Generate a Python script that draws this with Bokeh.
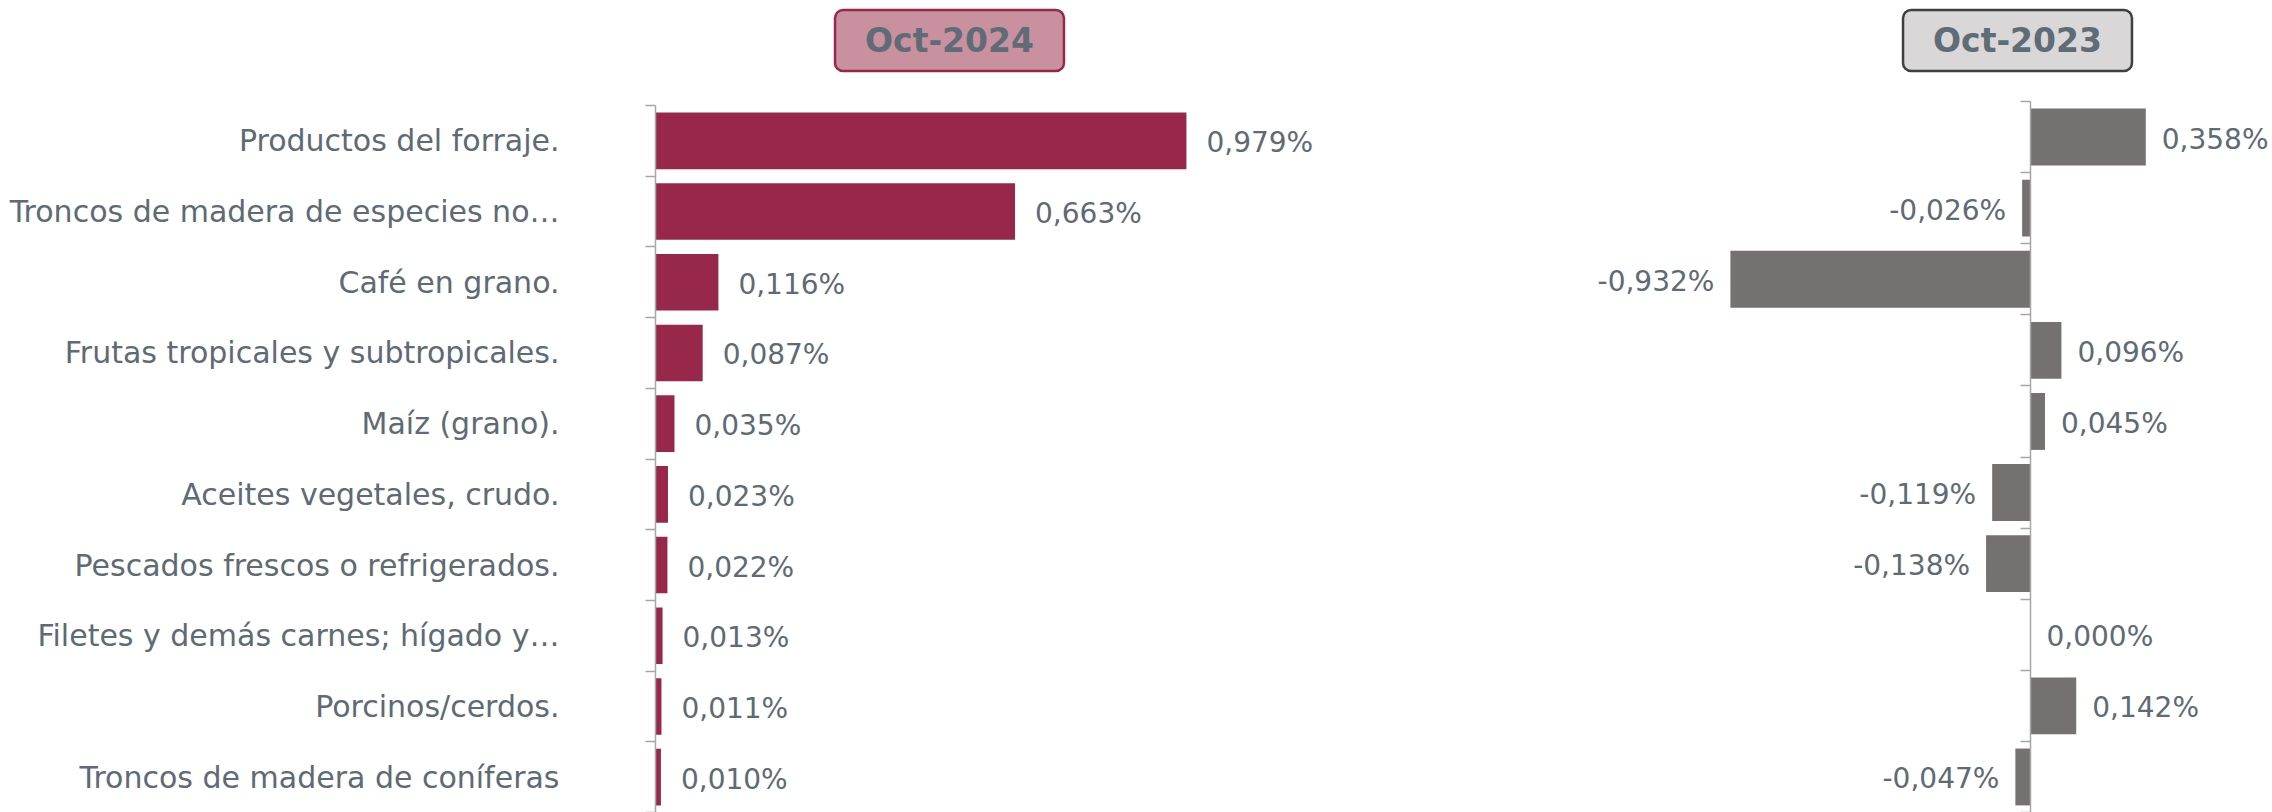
from bokeh.plotting import figure
from bokeh.models import (ColumnDataSource, Range1d, LinearAxis, FixedTicker, Label)
from bokeh.layouts import row
from bokeh.core.properties import value
from bokeh.embed import file_html
from bokeh.resources import INLINE

# ---------------- data ----------------
categories = [
    "Productos del forraje.",
    "Troncos de madera de especies no\u2026",
    "Café en grano.",
    "Frutas tropicales y subtropicales.",
    "Maíz (grano).",
    "Aceites vegetales, crudo.",
    "Pescados frescos o refrigerados.",
    "Filetes y demás carnes; hígado y\u2026",
    "Porcinos/cerdos.",
    "Troncos de madera de coníferas",
]
oct_2024 = [0.979, 0.663, 0.116, 0.087, 0.035, 0.023, 0.022, 0.013, 0.011, 0.010]
oct_2023 = [0.358, -0.026, -0.932, 0.096, 0.045, -0.119, -0.138, 0.000, 0.142, -0.047]
titles = ["Oct-2024", "Oct-2023"]

# ---------------- style ----------------
FONT = "DejaVu Sans"
TXT = "#5E6A74"
AXIS = "#A6A6A6"
RED = "#98284B"
GREY = "#767171"
H = 812
n = len(categories)
# category slot centres, first category on top
centres = [n - i - 0.5 for i in range(n)]


def fmt(v):
    return f"{v:.3f}".replace(".", ",") + "%"


def make_panel(vals, width, left_border, top_px, px_per_unit, zero_px, bar_color,
               with_labels, title, title_fill, title_line, title_center_px, pos_off):
    frame_w = width - left_border
    x_start = -(zero_px - left_border) / px_per_unit
    x_end = x_start + frame_w / px_per_unit
    px_y = (H - top_px) / n
    y_end = n + top_px / px_y
    p = figure(width=width, height=H, y_range=Range1d(0, y_end),
               x_range=Range1d(x_start, x_end),
               output_backend="svg", toolbar_location=None,
               x_axis_location=None, y_axis_location=None,
               min_border_left=left_border, min_border_right=0,
               min_border_top=0, min_border_bottom=0)
    p.outline_line_color = None
    p.xgrid.visible = False
    p.ygrid.visible = False
    p.background_fill_color = "white"
    p.border_fill_color = "white"

    src = ColumnDataSource(dict(y=centres, cat=categories, val=vals))
    p.hbar(y="y", left=0, right="val", height=0.8, source=src,
           fill_color=bar_color, line_color=None)

    pos = [(c, v, fmt(v)) for c, v in zip(centres, vals) if v >= 0]
    neg = [(c, v, fmt(v)) for c, v in zip(centres, vals) if v < 0]
    for grp, align, off in ((pos, "left", pos_off), (neg, "right", -16)):
        if not grp:
            continue
        s = ColumnDataSource(dict(y=[g[0] for g in grp], val=[g[1] for g in grp],
                                  lab=[g[2] for g in grp]))
        p.text(x="val", y="y", text="lab", source=s, x_offset=off, y_offset=2,
               text_align=align, text_baseline="middle",
               text_font=value(FONT), text_font_size="28px", text_color=TXT)

    # axis with ticks at the slot boundaries
    bticks = list(range(n + 1))
    tick_ax = LinearAxis(ticker=FixedTicker(ticks=bticks), bounds=(0, n),
                         major_label_overrides={t: "" for t in bticks},
                         major_label_standoff=0,
                         axis_line_color=AXIS, axis_line_width=1.5,
                         major_tick_line_color=AXIS, major_tick_line_width=1.5,
                         major_tick_in=0, major_tick_out=10,
                         minor_tick_line_color=None)
    if not with_labels:
        tick_ax.fixed_location = 0
    p.add_layout(tick_ax, "left")

    if with_labels:
        cat_ax = LinearAxis(ticker=FixedTicker(ticks=centres),
                            major_label_overrides={c: name for c, name in zip(centres, categories)},
                            axis_line_color=None, major_tick_line_color=None,
                            minor_tick_line_color=None,
                            major_label_standoff=80,
                            major_label_text_font=FONT,
                            major_label_text_font_size="30px",
                            major_label_text_color=TXT)
        p.add_layout(cat_ax, "left")

    # title box (centre 40 px below top of the page)
    ty = y_end - 40 / px_y
    tx = x_start + (title_center_px - left_border) / px_per_unit
    p.add_layout(Label(x=tx, y=ty, text=title, text_align="center",
                       text_baseline="middle", text_font=FONT,
                       text_font_size="33px", text_font_style="bold",
                       text_color="#5F6B75",
                       background_fill_color=title_fill,
                       border_line_color=title_line, border_line_width=2.5,
                       padding=(30, 11), border_radius=8))
    return p


# left panel: page x 0..1320, zero axis at 655
p1 = make_panel(oct_2024, 1320, 655, 105, 542.3, 655, RED, True,
                titles[0], "#C9919F", RED, 949, 20)
# right panel: page x 1320..2272, zero axis at page x 2030
p2 = make_panel(oct_2023, 952, 0, 101, 322.0, 2030 - 1320, GREY, False,
                titles[1], "#D9D7D8", "#3F3F3F", 2017 - 1320, 16)

layout = row(p1, p2, spacing=0)
open("out.html", "w").write(file_html(layout, INLINE))
